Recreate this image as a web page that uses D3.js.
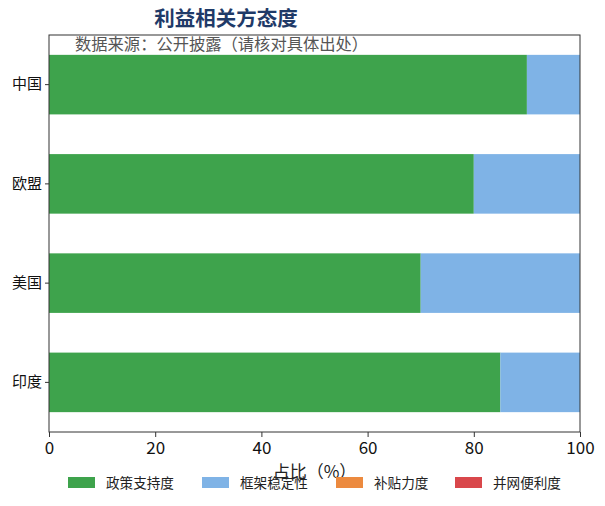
<!DOCTYPE html>
<html>
<head>
<meta charset="utf-8">
<script src="https://cdn.jsdelivr.net/npm/d3@7"></script>
<style>
  body { margin: 0; background: #fff; }
  text { font-family: "Noto Sans CJK SC", "Noto Sans", sans-serif; }
</style>
</head>
<body>
<div class="chart"></div>
<script>
// data
var regions = ["中国", "欧盟", "美国", "印度"];
var seriesNames = ["政策支持度", "框架稳定性", "补贴力度", "并网便利度"];
var policySupport = [90, 80, 70, 85];
var frameworkStability = [10, 20, 30, 15];
var subsidy = [0, 0, 0, 0];
var gridAccess = [0, 0, 0, 0];
var xTicks = [0, 20, 40, 60, 80, 100];
var colors = ["#3ea34c", "#7fb3e6", "#ec8a3f", "#d9474b"];

var margin = {top: 35, right: 25, bottom: 74, left: 49},
    width = 605 - margin.left - margin.right,
    height = 506 - margin.top - margin.bottom;

var svg = d3.select(".chart").append("svg")
    .attr("width", 605)
    .attr("height", 506);

var g = svg.append("g")
    .attr("transform", "translate(" + margin.left + "," + margin.top + ")");

// stack
var rows = regions.map(function(r, i) {
    return {region: r, "政策支持度": policySupport[i], "框架稳定性": frameworkStability[i],
            "补贴力度": subsidy[i], "并网便利度": gridAccess[i]};
});
var stacked = d3.stack().keys(seriesNames)(rows);

var x = d3.scaleLinear().domain([0, 100]).range([0, width]);
var y = d3.scaleBand().domain(regions).range([0, height]).paddingInner(0.4).paddingOuter(0.2);
var color = d3.scaleOrdinal().domain(seriesNames).range(colors);

g.selectAll("g.layer")
    .data(stacked)
    .enter().append("g")
    .attr("class", "layer")
    .attr("fill", function(d) { return color(d.key); })
    .selectAll("rect")
    .data(function(d) { return d; })
    .enter().append("rect")
    .attr("x", function(d) { return x(d[0]); })
    .attr("y", function(d) { return y(d.data.region); })
    .attr("width", function(d) { return x(d[1]) - x(d[0]); })
    .attr("height", y.bandwidth());

// frame
g.append("rect")
    .attr("width", width).attr("height", height)
    .attr("fill", "none").attr("stroke", "#333").attr("stroke-width", 1);

// axes
var xa = g.append("g")
    .attr("transform", "translate(0," + height + ")")
    .call(d3.axisBottom(x).tickValues(xTicks).tickSize(5).tickSizeOuter(0));
xa.select(".domain").remove();
xa.selectAll("text").attr("font-size", 17).attr("fill", "#111").attr("dy", "0.82em");
xa.selectAll("line").attr("stroke", "#333");

var ya = g.append("g")
    .call(d3.axisLeft(y).tickSize(4).tickSizeOuter(0));
ya.select(".domain").remove();
ya.selectAll("text").attr("font-size", 15).attr("fill", "#111");
ya.selectAll("line").attr("stroke", "#333");

// x label
svg.append("text")
    .attr("x", margin.left + width / 2)
    .attr("y", 478)
    .attr("text-anchor", "middle")
    .attr("font-size", 17)
    .attr("fill", "#222")
    .text("占比（%）");

// title + source
svg.append("text")
    .attr("x", 226).attr("y", 26)
    .attr("text-anchor", "middle")
    .attr("font-size", 20.5).attr("font-weight", "bold")
    .attr("fill", "#1f3a68")
    .text("利益相关方态度");

svg.append("text")
    .attr("x", 75).attr("y", 50)
    .attr("font-size", 16.3).attr("fill", "#555")
    .text("数据来源：公开披露（请核对具体出处）");

// legend
var legendX = [68, 202, 336, 455];
var legend = svg.append("g").selectAll("g")
    .data(seriesNames)
    .enter().append("g")
    .attr("transform", function(d, i) { return "translate(" + legendX[i] + ",477)"; });
legend.append("rect")
    .attr("width", 27).attr("height", 11)
    .attr("fill", function(d) { return color(d); });
legend.append("text")
    .attr("x", 38).attr("y", 10.5)
    .attr("font-size", 13.6).attr("fill", "#222")
    .text(function(d) { return d; });
</script>
</body>
</html>
